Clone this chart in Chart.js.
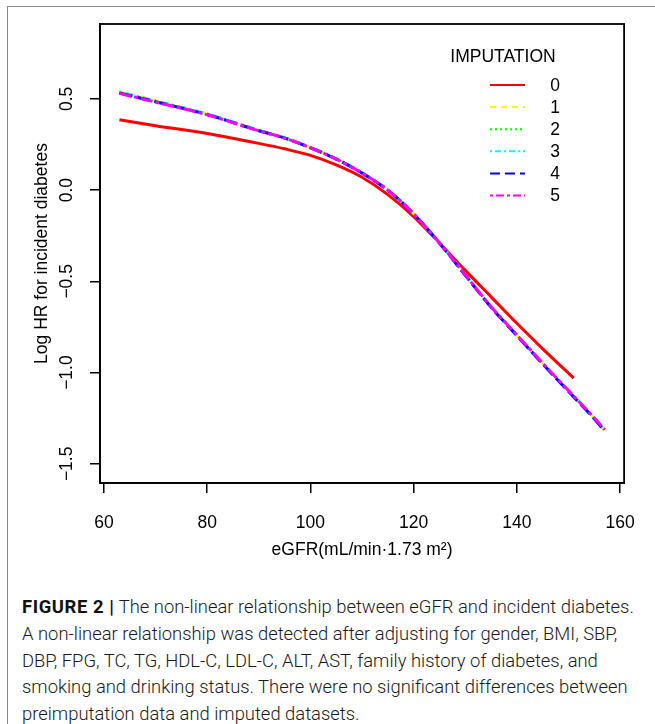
<!DOCTYPE html>
<html>
<head>
<meta charset="utf-8">
<script src="https://cdn.jsdelivr.net/npm/chart.js@4"></script>
<style>
  html, body { margin:0; padding:0; background:#fff; }
  #page { position:relative; width:655px; height:724px; overflow:hidden; }
  #frameTop { position:absolute; left:8px; top:6px; width:647px; height:0; border-top:1.5px solid #888; }
  #frameLeft { position:absolute; left:7px; top:6px; width:0; height:718px; border-left:1.5px solid #888; }
  #wrap { position:absolute; left:0; top:0; width:655px; height:580px; }
  #caption {
    position:absolute; left:22px; top:594px; width:630px;
    font-family:Roboto, "Liberation Sans", sans-serif; font-size:18.4px; font-weight:300;
    line-height:26.8px; color:#1a1a1a; white-space:nowrap;
  }
  #caption b { font-weight:700; color:#111; letter-spacing:0.6px; }
</style>
</head>
<body>
<div id="page">
  <div id="frameTop"></div>
  <div id="frameLeft"></div>
  <div id="wrap"><canvas id="grafico"></canvas></div>
  <div id="caption">
    <b>FIGURE 2 |</b> The non-linear relationship between eGFR and incident diabetes.<br>
    A non-linear relationship was detected after adjusting for gender, BMI, SBP,<br>
    DBP, FPG, TC, TG, HDL-C, LDL-C, ALT, AST, family history of diabetes, and<br>
    smoking and drinking status. There were no significant differences between<br>
    preimputation data and imputed datasets.
  </div>
</div>
<script>
// ===============================
// DADOS
// ===============================

const eixoX0 = [63, 70, 80, 90, 95, 100, 105, 110, 115, 120, 125, 130, 135, 140, 145, 151];
const eixoX  = [63, 70, 80, 90, 95, 100, 105, 110, 115, 120, 125, 130, 135, 140, 145, 150, 155, 157];

const imput0 = [0.385, 0.352, 0.31, 0.256, 0.226, 0.19, 0.138, 0.07, -0.025, -0.145, -0.29, -0.44, -0.585, -0.73, -0.87, -1.03];
const imput1 = [0.537, 0.488, 0.417, 0.328, 0.287, 0.234, 0.171, 0.094, 0.0, -0.13, -0.29, -0.465, -0.64, -0.795, -0.95, -1.10, -1.25, -1.315];
const imput2 = [0.535, 0.487, 0.416, 0.327, 0.286, 0.233, 0.171, 0.094, 0.0, -0.13, -0.29, -0.466, -0.641, -0.797, -0.952, -1.102, -1.252, -1.318];
const imput3 = [0.538, 0.488, 0.417, 0.328, 0.287, 0.234, 0.171, 0.093, -0.001, -0.131, -0.291, -0.466, -0.641, -0.796, -0.951, -1.101, -1.251, -1.316];
const imput4 = [0.532, 0.484, 0.414, 0.325, 0.285, 0.232, 0.170, 0.093, -0.001, -0.131, -0.291, -0.467, -0.642, -0.798, -0.953, -1.104, -1.254, -1.32];
const imput5 = [0.530, 0.482, 0.413, 0.325, 0.285, 0.232, 0.170, 0.093, 0.0, -0.13, -0.289, -0.464, -0.639, -0.794, -0.949, -1.099, -1.249, -1.313];

const rotulos = ["0", "1", "2", "3", "4", "5"];
const cores = ["#FF0000", "#FFFF00", "#00FF00", "#00FFFF", "#0000FF", "#FF00FF"];
const tracos = [[], [9, 7], [2, 4], [2, 4, 8, 4], [13, 5], [12, 3, 4, 3]];
const tracosLegenda = [[], [6, 5], [2, 3], [2, 3, 6, 3], [10, 5], [3, 3, 8, 3]];

const ticksX = [60, 80, 100, 120, 140, 160];
const ticksY = [-1.5, -1.0, -0.5, 0.0, 0.5];
const ticksYTexto = ["\u22121.5", "\u22121.0", "\u22120.5", "0.0", "0.5"];

const tituloX = "eGFR(mL/min\u00B71.73 m\u00B2)";
const tituloY = "Log HR for incident diabetes";
const tituloLegenda = "IMPUTATION";

// ===============================
// GRÁFICO
// ===============================

const fonte = '"Liberation Sans", Arial, sans-serif';
const series = [imput0, imput1, imput2, imput3, imput4, imput5];

// a última série fica por cima (como no R)
const datasets = series.map((s, i) => {
  const xs = i === 0 ? eixoX0 : eixoX;
  return {
    label: rotulos[i],
    data: s.map((v, k) => ({ x: xs[k], y: v })),
    order: series.length - i,
    borderColor: cores[i],
    borderWidth: 3,
    borderDash: tracos[i],
    pointRadius: 0,
    fill: false,
    cubicInterpolationMode: "monotone",
    borderCapStyle: "butt"
  };
});

const extras = {
  id: "extras",
  afterDraw(chart){
    const ctx = chart.ctx;
    const a = chart.chartArea;
    const sy = chart.scales.y;
    ctx.save();

    // caixa
    ctx.strokeStyle = "#000";
    ctx.lineWidth = 1.8;
    ctx.strokeRect(a.left, a.top, a.right - a.left, a.bottom - a.top);

    ctx.fillStyle = "#000";
    ctx.font = "17.5px " + fonte;
    ctx.textAlign = "center";
    ctx.textBaseline = "middle";

    // rótulos do eixo y (girados)
    ticksY.forEach((v, i) => {
      ctx.save();
      ctx.translate(67, sy.getPixelForValue(v));
      ctx.rotate(-Math.PI / 2);
      ctx.fillText(ticksYTexto[i], 0, 0);
      ctx.restore();
    });

    // títulos
    ctx.fillText(tituloX, (a.left + a.right) / 2, 550);
    ctx.save();
    ctx.translate(42, (a.top + a.bottom) / 2);
    ctx.rotate(-Math.PI / 2);
    ctx.fillText(tituloY, 0, 0);
    ctx.restore();

    // legenda
    ctx.fillText(tituloLegenda, 503, 57);
    rotulos.forEach((r, i) => {
      const y = 85 + i * 22.1;
      ctx.beginPath();
      ctx.strokeStyle = cores[i];
      ctx.lineWidth = 2;
      ctx.setLineDash(tracosLegenda[i]);
      ctx.moveTo(490, y);
      ctx.lineTo(525, y);
      ctx.stroke();
      ctx.setLineDash([]);
      ctx.fillText(r, 555, y + 1);
    });

    ctx.restore();
  }
};

new Chart(document.getElementById("grafico"), {
  type: "line",
  data: { datasets },
  options: {
    responsive: true,
    maintainAspectRatio: false,
    animation: false,
    layout: { padding: { left: 0, top: 24, right: 30, bottom: 0 } },
    plugins: { legend: { display: false }, tooltip: { enabled: false } },
    scales: {
      x: {
        type: "linear",
        min: 59.24,
        max: 160.76,
        afterBuildTicks: s => { s.ticks = ticksX.map(v => ({ value: v })); },
        afterFit: s => { s.height = 97; },
        grid: { drawOnChartArea: false, drawTicks: true, tickLength: 10, color: "#000", lineWidth: 1.5 },
        border: { display: true, color: "#000", width: 1.8 },
        ticks: { color: "#000", font: { family: fonte, size: 17.5 }, padding: 20, maxRotation: 0 }
      },
      y: {
        type: "linear",
        min: -1.605,
        max: 0.91,
        afterBuildTicks: s => { s.ticks = ticksY.map(v => ({ value: v })); },
        afterFit: s => { s.width = 100; },
        grid: { drawOnChartArea: false, drawTicks: true, tickLength: 10, color: "#000", lineWidth: 1.5 },
        border: { display: true, color: "#000", width: 1.8 },
        ticks: { display: false }
      }
    }
  },
  plugins: [extras]
});
</script>
</body>
</html>
